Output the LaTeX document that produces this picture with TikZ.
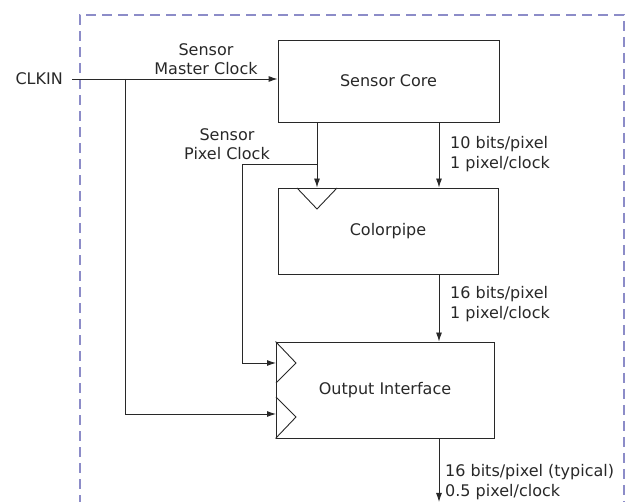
\documentclass[tikz,border=0pt]{standalone}
\usepackage{fontspec}
\setmainfont{DejaVu Sans}
\usetikzlibrary{arrows.meta}
\definecolor{linecol}{RGB}{40,40,40}
\definecolor{dashcol}{RGB}{140,140,200}
\begin{document}
\begin{tikzpicture}[x=1pt,y=-1pt,
  block/.style={draw=linecol,line width=0.9pt,inner sep=0pt,text=linecol,font=\fontsize{16}{19.5}\selectfont},
  lbl/.style={inner sep=0pt,text=linecol,font=\fontsize{16}{19.5}\selectfont},
  wire/.style={draw=linecol,line width=0.9pt},
  arr/.style={wire,-{Latex[length=9pt,width=6pt]}},
  clk/.style={draw=linecol,line width=0.9pt}]
\useasboundingbox (0,0) rectangle (630,502);
% border
\draw[dashcol,line width=2pt,dash pattern=on 10pt off 6pt] (80,505) -- (80,15) -- (624,15) -- (624,505);
% blocks
\node[block,minimum width=221pt,minimum height=82pt] (core) at (388.5,81) {Sensor Core};
\node[block,minimum width=220pt,minimum height=86pt] (cp) at (388,231) {Colorpipe};
\node[block,minimum width=218pt,minimum height=96pt] (oi) at (385,390) {Output Interface};
% clock triangles
\draw[clk] (297,188) -- (317,209) -- (337,188);
\draw[clk] (oi.north west) -- (296,363) -- (276,383);
\draw[clk] (276,397) -- (296,417) -- (oi.south west);
% coordinates
\coordinate (clkin0) at (72,79);
\coordinate (j1) at (125,79);
\coordinate (pcx) at (317,0);
\coordinate (dx) at (439,0);
\coordinate (br) at (317,164);
\coordinate (bl) at (242,164);
\coordinate (oiA) at (276,363);
\coordinate (oiB) at (276,414);
\coordinate (outend) at (439,502);
% labels
\node[lbl,anchor=east] (clkin) at (63,79) {CLKIN};
\node[lbl,align=center] (mclk) at (206,59) {Sensor\\Master Clock};
\node[lbl,align=center] (pclk) at (227,144) {Sensor\\Pixel Clock};
\node[lbl,align=left,anchor=west] (d1) at (450,154) {10 bits/pixel\\1 pixel/clock};
\node[lbl,align=left,anchor=west] (d2) at (450,304) {16 bits/pixel\\1 pixel/clock};
\node[lbl,align=left,anchor=west] (d3) at (445,482) {16 bits/pixel (typical)\\0.5 pixel/clock};
% connectors
\draw[arr] (clkin0) -- (core.west |- clkin0);
\draw[arr] (j1) |- (oiB);
\draw[arr] (core.south -| pcx) -- (cp.north -| pcx);
\draw[arr] (br) -- (bl) |- (oiA);
\draw[arr] (core.south -| dx) -- (cp.north -| dx);
\draw[arr] (cp.south -| dx) -- (oi.north -| dx);
\draw[arr] (oi.south -| dx) -- (outend);
\end{tikzpicture}
\end{document}
